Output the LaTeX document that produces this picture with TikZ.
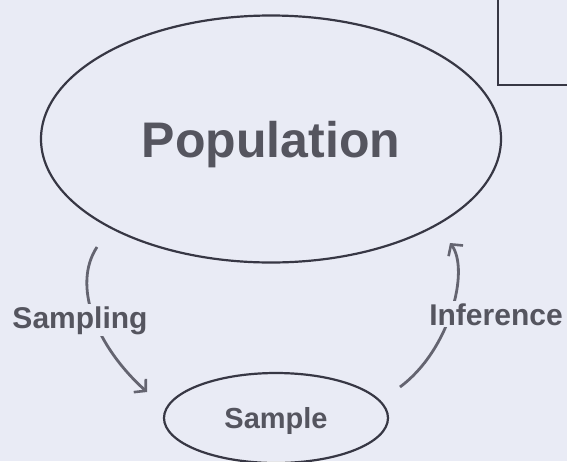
\documentclass[tikz,border=0pt]{standalone}
\usepackage{fontspec}
\setmainfont{Liberation Sans}
\usepackage{xcolor}
\usepackage{tikz}
\usetikzlibrary{arrows.meta,shapes.geometric}
\definecolor{paper}{RGB}{233,235,245}
\definecolor{ink}{RGB}{55,55,68}
\definecolor{txt}{RGB}{85,85,95}
\definecolor{arrowgray}{RGB}{100,100,112}
\begin{document}
\begin{tikzpicture}[
  x=1pt, y=-1pt, font=\bfseries,
  oval/.style={draw=ink, line width=2.2pt, ellipse, inner sep=0pt, text=txt},
  tag/.style={fill=paper, text=txt, inner sep=2pt, anchor=base, font=\bfseries\fontsize{30}{30}\selectfont},
  panel/.style={draw=ink, line width=2.2pt, minimum width=120pt, minimum height=120pt, anchor=south west},
  arr/.style={-{Straight Barb[length=8pt, width=18pt, line width=2.6pt]}, draw=arrowgray, line width=2.8pt}]
  % --- canvas ---
  \clip (0,0) rectangle (567,461);
  \fill[paper] (0,0) rectangle (567,461);
  % --- ovals ---
  \node[oval, minimum width=460pt, minimum height=247pt, text depth=0pt,
    font=\bfseries\fontsize{50}{50}\selectfont] (pop) at (271,139) {Population};
  \node[oval, minimum width=224pt, minimum height=90pt, text depth=0pt,
    font=\bfseries\fontsize{29}{29}\selectfont] (smp) at (276,418) {Sample};
  \node[panel] (frame) at (497,86) {};
  % --- cycle ---
  \coordinate (s0) at (97,247);  \coordinate (s1) at (147,392);
  \coordinate (i0) at (400,387); \coordinate (i1) at (450,243);
  \draw[arr] (s0) .. controls (72,285) and (95,345) .. (s1);
  \draw[arr] (i0) .. controls (450,350) and (470,270) .. (i1);
  \node[tag] (sampling)  at (80,328)  {Sampling};
  \node[tag] (inference) at (496,325) {Inference};
\end{tikzpicture}
\end{document}
